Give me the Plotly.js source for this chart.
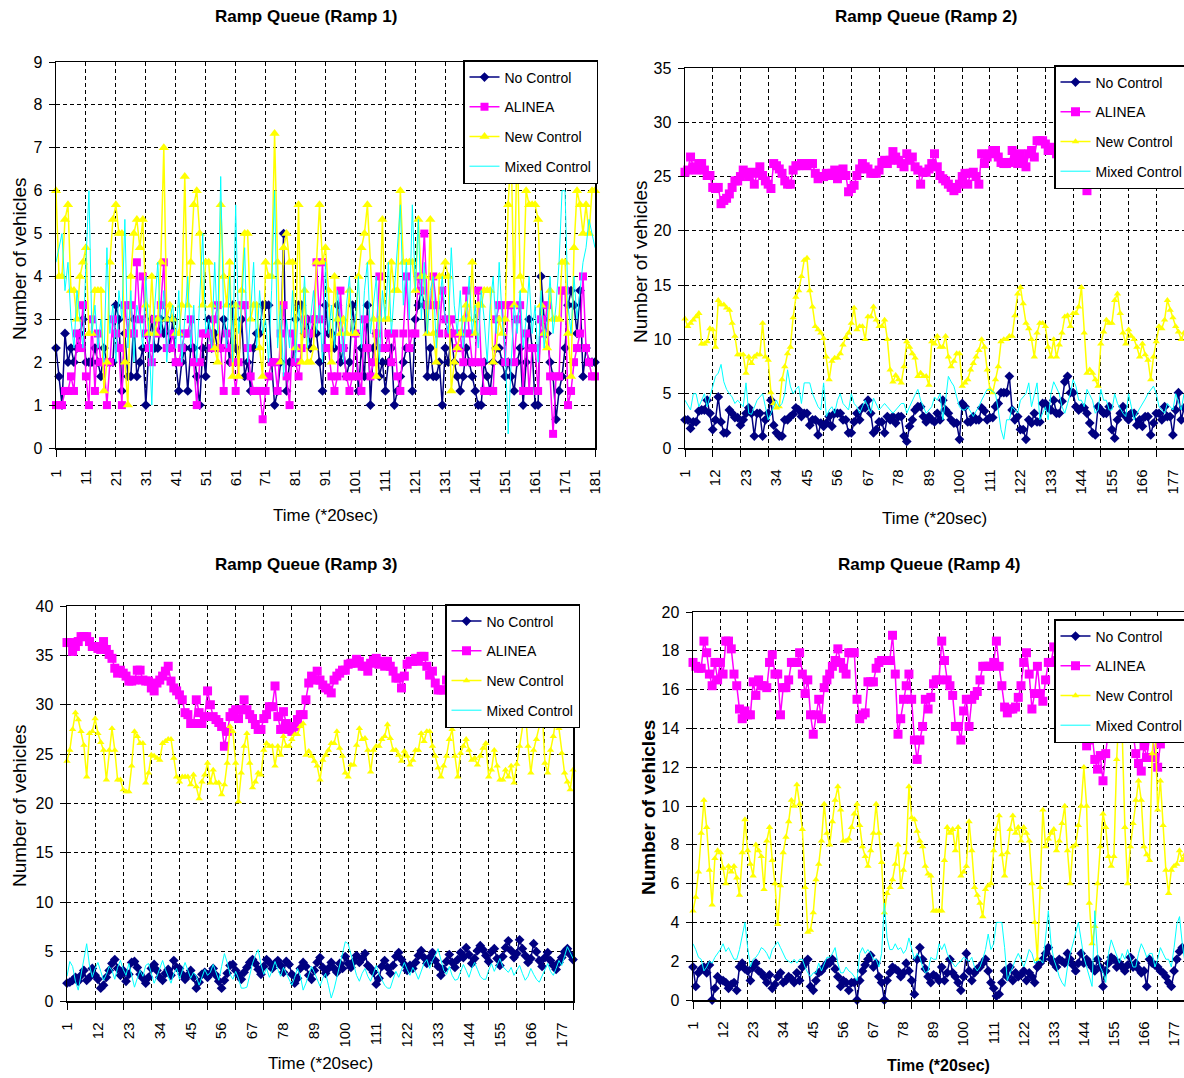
<!DOCTYPE html>
<html>
<head>
<meta charset="utf-8">
<script src="https://cdn.plot.ly/plotly-3.0.1.min.js"></script>
<style>
html,body{margin:0;padding:0;background:#ffffff;overflow:hidden;}
#chart{width:1200px;height:1078px;}
</style>
</head>
<body>
<div id="chart"></div>
<script>
// ---------------- DATA ----------------
const seriesNames = ['No Control', 'ALINEA', 'New Control', 'Mixed Control'];
const panelTitles = ['Ramp Queue (Ramp 1)', 'Ramp Queue (Ramp 2)', 'Ramp Queue (Ramp 3)', 'Ramp Queue (Ramp 4)'];
const xTitle = 'Time (*20sec)';
const yTitle = 'Number of vehicles';
const nSteps = 181;

const ticksRamp1 = [1, 11, 21, 31, 41, 51, 61, 71, 81, 91, 101, 111, 121, 131, 141, 151, 161, 171, 181];
const ticksRamp234 = [1, 12, 23, 34, 45, 56, 67, 78, 89, 100, 111, 122, 133, 144, 155, 166, 177];
const gridRamp234 = [1, 11, 21, 31, 41, 51, 61, 71, 81, 91, 101, 111, 121, 131, 141, 151, 161, 171, 181];

// ----- Ramp 1 -----
const r1NoControl = [
2.33,1.67,1,2.67,2,2.33,2,2.33,2.67,3,
2,2,2,2.33,2,1.67,2.33,2,2,2,
3.33,3,1.33,2.67,1.67,1.67,3,1.67,2,2.33,
1,2.33,3,2.33,2.33,3,2.67,3,2.33,3,
2,1.33,2,2.33,1.33,2.33,2.33,1.67,1,2.33,
1.67,3,2.33,2.67,2.33,2.33,3,2.67,2,3.33,
2.33,2,3,1.67,2,1.33,2.33,2.67,2.67,3.33,
3.33,3.33,2,1,1.33,2,5,1.33,2,2,
3,3.33,3.33,2.67,3,2.33,3,2.67,2,1.33,
3.33,2.67,2.67,2.33,3.33,2,2.33,1.67,2,3.33,
2.67,1.33,2.33,1.67,3.33,1,2.33,2.67,1.67,2,
1.33,2,2.33,1,1.33,1.67,2,2.33,2.33,1.33,
3,3.33,3.67,3.33,1.67,2.33,1.67,1.67,2,1,
2.33,2,2.67,2,1.67,1.33,1.67,2.33,2,1.67,
1.33,1,1,2,1.67,1.33,2,2.33,2.33,2,
1.67,2,1.67,1.33,2,2.33,1,2,3,2.33,
1,1,4,3,2.67,2,1.67,0.67,1.33,1.67,
2.33,3.33,3.67,3.33,2.67,3.67,1.67,2.33,2,2,2];
const r1Alinea = [
1,1,1,1.33,1.33,1.67,1.33,2.67,2.33,3.33,
1.67,1,3,1.33,2.67,2,2,1,2,3,
2.67,2.33,1,3.33,2.67,3.33,2.67,4.33,3,4,
2.67,2.33,2,3,2.67,3.33,4.33,2.33,2.33,2.67,
2,2,2.33,2.67,2.67,3,2,1,2,2.67,
2.67,2.67,2.33,3,3.33,2.33,1.33,2.67,2.33,2,
1.33,2,3.33,3.33,2.33,1.67,1.33,1.33,1.33,0.67,
1.33,1.67,2,2,1.33,2.67,3.33,1.67,1,2.67,
2,1.67,2.33,3,2.67,2.67,3,4.33,3,4.33,
2.33,2.33,1.67,1.33,1.67,3.67,2.33,1.67,1.33,1.67,
2.67,1.67,1.33,3,2.33,1.67,2,2.67,4,2.33,
2.33,2.67,2,2.67,1.67,1.33,2.67,4,2.33,2.67,
2.67,4,3.67,5,3.33,3.33,4,3.33,2.67,3.67,
3,2.67,3,2.67,2.33,2.67,2,3.67,2.67,2,
2,3.67,2,1.33,1.33,1.33,1.33,3,3.33,3.33,
2,3.33,3.33,2,3,3.33,1.33,2.67,1.33,2.33,
2.33,1.33,3,2.67,3.33,1.67,0.33,1.67,1.67,3.67,
3.67,1,1.33,2,2.33,2.67,4,2.33,2,1.67,1.67];
const r1NewControl = [
6,4,4,5.33,5.67,3.67,3.67,3,4,4.33,
4.67,2.67,2.67,3.67,3.67,3.67,1.33,2,4.33,5.33,
5.67,5,5,2,1,4,5,5.33,4.67,5.33,
3.33,2.67,4,2.67,3,4.33,7,3,3.33,3,
2.67,2.67,3.33,6.33,3.33,4.33,5.67,6,5,3.33,
4.33,4.33,3.33,2.33,2,5.67,4,3.33,4.33,1.67,
3.33,1.67,3.67,5,5,3,3.33,3.33,2.33,1.67,
4.33,4,4,7.33,4.33,2,4.67,5,4.33,4.33,
2.33,5.67,2,3.67,2,2,2.33,4.33,5.67,4.33,
4.67,3.67,2,4,3,2.67,3,2.67,3.67,2.67,
2.67,4,4.67,5,5.67,4.33,3,1.67,3,5.33,
3,3,4.33,3.67,3.67,6,4.33,4.33,4.33,4.33,
3.67,5.33,4,4,2.67,5.33,2.67,2,4,4,
4.33,4,1.33,2,2.33,2.67,3,3.33,3,4.33,
2.67,3.33,3.33,3.67,3.67,3.67,2,2.33,3,2.67,
3,5.67,7,3.33,7.33,4,3.67,6,5.67,5.67,
5.67,5.33,3.33,2.67,2.33,3.67,3,3,3,4.33,
4.33,2.67,1.67,4.67,6,5.67,5,5.67,5,6,6];
const r1Mixed = [
4.33,4.67,5,3.67,4.33,3,2.33,3.67,3,2.33,
4.33,6,2.67,3.33,2.33,3,2,4.67,2.67,3.33,
2,3.67,3,5.33,2.33,3.67,2,3.33,3,2.33,
4,2.67,1,3.33,4.33,2.67,3.67,2,3,3.33,
2.33,3.67,2,3,4,2.33,3.33,2,3.67,5,
2.67,3,2.33,4.33,2.67,6.33,3,2.33,4,2,
5.67,2.67,3.33,4.67,2,3.33,4.33,2.33,3.67,2.67,
3,2,3.67,6,2.33,3.33,1.67,3,2.33,3.67,
2,3.33,2.67,4,2.33,3,3.67,2.67,3.33,2,
4.33,2.67,3.33,2.33,3.67,3,2,3.33,4,2.67,
3,4,2.33,3.67,4.33,2.67,3.33,4,2,3.67,
3,4.33,2.67,3.67,4.67,5.67,3.33,4.33,3,5.67,
3.67,5.33,3,4.33,2.67,3.67,4,2.33,3.33,4,
3,2.67,4.67,3.33,2.67,3.67,2.33,3,4,2.67,
3.33,2.33,3.67,3,2,3.33,4,2.67,4.33,3,
2.33,0.33,2,3.33,2.67,3.67,2.33,3,4,2.67,
3.33,2,3.67,2.33,3,4,2.67,3.33,4.33,6,
6,3.33,2.67,4,3,3.67,4.33,4.67,5.33,5,4.67];

// ----- Ramp 2 -----
const r2NoControl = [
2.6,2.6,1.8,2.4,2.4,3.4,3.5,3.5,4.4,3.2,
1.7,2.6,4.7,2.4,1.4,1.4,3.5,3.2,2.8,2.8,
2.1,2.6,3.2,3.7,3.2,1.1,3.2,3.2,1.1,2.6,
3.2,4.4,2.1,1.4,1.1,1.1,2.6,2.6,2.9,3.1,
3.7,3.5,2.9,3.2,3.2,2.1,2.6,2.6,1.2,2.3,
2,2.3,2.9,2,3.2,3.2,3.2,2.6,2.6,1.4,
1.4,2.4,3.2,2.6,3.7,3.7,4.4,3.2,1.4,1.7,
2.4,2.4,1.4,2.9,2.6,2.9,2.3,2.9,2.9,1.1,
0.6,2,2.6,3.5,3.8,3.8,2.9,2.4,2.9,2.6,
2.4,3.2,2.6,4.4,3.5,3.2,2.6,2.3,2.3,0.8,
4.1,3.8,2.4,2.4,2.9,2.6,2.6,3.7,3.4,2.6,
2.8,2.8,3.8,4.1,5.1,5.1,5.1,6.6,3.5,2.6,
2.9,1.7,1.7,0.8,2.6,2.3,3.2,2.4,2.4,4.1,
4.1,3.7,3.5,4.4,3.2,3.2,4.3,6.1,6.6,5.1,
5.1,3.8,3.5,3.7,3.7,3.2,2.3,1.4,1.2,3.8,
3.5,3.2,3.2,3.8,1.7,0.9,2.6,3.2,3.8,2.9,
2.6,3.2,3.2,2.1,2.6,2,2.9,2.9,1.2,2.3,
3.2,3.2,2.6,3.8,2.9,2.9,1.2,3.5,5.1,2.6,3.7];
const r2Alinea = [
25.4,25.6,26.8,25.9,25.6,26.2,26.2,25.6,25.1,25.1,
24,23.9,24,22.5,22.8,23,23.4,24,24.6,24.6,
25,25.6,25.3,25,25.4,24.3,25.3,25.9,25.1,24.6,
24.3,23.9,26.2,26,25.7,25.3,24.6,24.3,24.3,25.6,
26,26,26.2,26.2,26,26.2,26.2,25.3,24.8,25,
25,25.3,25.1,25.3,25.6,24.8,25.1,25.7,25.1,23.6,
23.9,24.2,25.1,25.7,26.2,25.9,25.7,25.3,25.3,25.3,
25.6,26.3,26.5,26.2,26.5,27.3,26.8,26.5,26.2,25.9,
27.1,26.5,26.8,25.9,25.6,24.3,25.4,25.4,25.7,26.2,
27.1,25.9,25.1,24.8,24.6,24.3,24,23.7,23.9,24.3,
25,25.3,24.3,25.3,25.4,25,24.3,27.1,26.2,26.8,
27.1,27.4,27.4,26.8,26.3,26.2,26.2,26.3,27.4,26.9,
26.2,27.1,26.5,25.9,27.1,27.4,26.8,28.3,28.3,28.3,
28,27.4,27.4,27.7,27.1,28,27.4,26.8,27.1,26.5,
25.9,26.2,25.3,24.8,25.1,23.7,25.3,26.2,26.8,27.1,
26.5,27.4,28,27.7,27.1,26.2,26.8,27.4,28.3,27.7,
27.1,26.5,26.2,26.8,27.4,28,28.6,28,27.4,26.8,
27.1,27.7,28.3,27.7,27.1,26.5,27.1,27.7,28,27.4,27.1];
const r2NewControl = [
11.9,11.2,11.5,11.8,12.1,12.4,9.6,9.6,9.8,11,
10.9,9.3,13.6,13.2,13.2,12.9,12.7,11.5,10.3,8.6,
8.6,8.6,6.9,8.4,7.8,8.4,8.6,8.6,11.5,8.4,
8.1,5.1,4.1,3.7,3.8,6.3,7.5,8.7,9.3,12,
13.9,14.5,15.8,17.3,17.5,14.5,13,11.2,10.9,10.6,
10.1,8.4,6.3,8,8.3,8.3,8.7,9.5,10.2,10.6,
11.5,12.9,10.9,11.2,11.2,10,12.1,12.1,13,11.8,
11.2,11.2,11.8,10,7.2,6.1,6.7,6.3,6,7.5,
9.8,9.3,8.7,8.3,6.6,6.9,6.6,6.6,5.8,9.8,
9.6,10.3,9.3,9.3,10.3,8.4,7.5,8,8.7,8.7,
5.7,6,6.3,7.2,7.8,8.4,9,10,9.3,7.2,
5.4,5.1,6.3,7.5,9.8,10,10,10.3,10.3,12.2,
14.2,14.8,13.3,11.5,11,10,8.4,10.6,11.5,11.5,
11.2,9.3,8.4,10,8.4,9.5,10.6,12.1,12.2,11.2,
12.4,12.4,13,14.8,10.6,6.9,7.2,6.9,6.3,5.7,
9.6,10.7,11.8,11.5,11.5,13.6,14.2,12.4,10.6,9.6,
10.9,10.3,10,9.3,8.4,9.6,8.6,8.1,6.3,8.4,
9.8,11.2,11,11.8,13.6,12.7,12,11.2,10.7,10,10.6];
const r2Mixed = [
4.4,4,3.5,5,5,3.8,4.4,5,3.8,4.7,
5.7,6.6,6.9,7.7,6.1,5.4,5,4.7,4.1,4.4,
4.1,3.8,6,3.2,3.1,3.8,4.4,4.7,5,3.8,
2.6,3.2,3.8,4.4,3.8,4.1,5,7.2,5.7,5,
5.4,5.7,4.1,6,6,6,5,4.4,3.8,3.5,
6,2.9,3.5,3.8,3.2,4.4,5,4.1,3.8,3.5,
5,4.1,3.8,3.2,3.8,4.4,3.8,3.2,4.6,4.1,
3.5,3.8,4.1,3.8,3.5,3.2,3.5,3.8,4.1,4.1,
3.2,3.8,4.4,4.9,5.4,4.4,3.8,3.2,3.5,3.8,
4.7,4.4,5,2.6,4.4,6.6,6.1,5.7,4.7,3.8,
3.5,3.5,3.8,3.4,2.9,3.4,3.8,4.4,4.9,5.4,
5.4,5.2,5,3.5,1.7,0.8,2.6,2.6,3.8,3.5,
3.2,4.4,4.7,5,6,3.8,4.9,6,2.6,3.2,
3.8,2.6,5,6.1,5.5,5,3.8,3.2,4.1,5,
6.3,5.7,4.4,4.4,3.8,5.4,4.9,4.4,3.2,3.5,
5.4,4.4,4.4,3.5,3.5,5,4.1,3.6,3.2,2.9,
5,3.8,2.6,3.2,3.6,4.1,4.5,5,5.4,5.7,
5,3.8,3.5,3.2,4.1,3.8,3.5,5,4.2,3.5,5];

// ----- Ramp 3 -----
const r3NoControl = [
1.8,1.9,2.1,2.4,2,2.6,3.1,2.1,2.4,3.3,
2.6,2.2,1.3,1.6,2.4,3.1,3.8,4.2,3.3,2.6,
3.1,2,2.7,3.9,4,3.4,2.7,2.3,1.8,2.4,
3.3,3.7,3.1,2.4,2.1,2.8,3.2,2.6,4.1,3.4,
3.3,2.7,2.2,2.6,3.1,2.4,1.3,1.9,2.7,2.9,
2.4,2.8,3.3,2.6,2,1.3,2.1,2.8,3.6,3.7,
3.1,2.6,2.2,2.9,3.4,3.9,4.2,3.8,3.2,2.7,
3.5,4.2,3.9,3.3,3.8,4.1,3.6,2.9,4,3.7,
2.7,1.8,2.3,3.3,3.9,3.5,2.6,2.2,3.1,3.9,
4.4,3.4,2.8,3.3,3.9,3.3,2.9,3.8,3.3,4.5,
3.8,3.4,4,4.6,3.9,4.3,4.8,3.6,3.3,2.9,
1.7,2.3,3.5,4.1,3.4,2.8,3.6,4.5,4.9,4.2,
3.7,3.1,3.6,3.3,3.9,4.6,5.1,4.4,3.8,4.4,
4.9,4.1,3.5,2.6,3.2,4,4.7,3.9,3.4,4.2,
4.9,4.4,5.4,4.7,3.8,4.3,5.1,5.6,5.2,4.6,
4,5,5.3,4.3,3.6,4.5,5.4,6.1,5.1,4.4,
4.8,6.2,5.3,4.6,3.9,4.3,5.8,5,4.1,3.5,
4.4,4.9,4.1,3.6,3.2,3.9,4.4,5,5.3,4.7,4.2];
const r3Alinea = [
36.3,36.3,35.4,35.9,36.4,36.9,36.9,36.9,36.4,35.9,
35.9,35.7,35.6,36.4,35.6,35.1,34.7,33.7,33.2,33.5,
33.2,32.9,32.4,32.4,32.5,33.5,33.5,32.5,32.4,32.4,
31.7,31.4,32.2,32.5,32.9,33.4,33.9,32.4,31.7,31.4,
31,30.5,29.2,29,28.1,28.1,30.5,29.2,28.1,28.8,
31.4,30,28.8,28.5,28.2,27.8,25.8,27.3,28.8,29.2,
29.5,28.6,29.5,30.5,29.5,29,28.6,28,27.5,27.5,
28.6,29,29.8,29.8,31.9,28.8,27.5,29.3,28.1,27.5,
27.3,27.8,28.5,29,29,30.5,32.2,32.9,32.5,33.4,
32.5,32,31.7,31.5,31.2,32.5,32.9,33.2,33.5,33.5,
34.1,34.2,34.2,34.6,34.4,33.9,33.9,33.4,34.2,34.5,
34.7,34.1,34.4,33.9,34.4,33.9,33.4,32.7,32.7,31.7,
32.9,34.1,34.4,34.4,34.7,34.4,34.9,34.9,33.9,33,
33.4,32.2,31.5,31.5,31.5,32.5,33,32.2,31.7,32.5,
33.2,33.9,34.4,33.7,33.2,32.7,33.4,34.1,34.6,34.9,
34.4,33.9,33.2,32.5,33,33.7,34.4,34.9,35.4,34.7,
34.1,33.4,32.9,33.5,34.2,34.7,35.2,34.6,33.9,33.4,
32.7,33.2,33.9,34.4,34.9,34.4,33.7,33.2,33.9,34.4,34.1];
const r3NewControl = [
24.3,25.4,27.5,29.2,28.5,27.3,25.9,22.7,27.1,27.3,
28.6,27.1,26.2,25.4,22.4,25.4,27.6,25.4,22.4,22.4,
21.4,21.2,21.2,23.8,27.3,26.8,26.1,26.1,22.1,23.1,
24.9,24.8,24.6,24.4,26.1,26.3,26.5,26.5,24.6,22.7,
22.2,22.7,22.7,22.7,21.9,22.9,21.7,20.5,22.2,22.9,
24.1,22.1,23.4,22.1,22.1,20.9,21.9,24.1,27.8,27.3,
24.1,20.2,23.1,25.8,27.1,24.1,21.6,22.2,23.1,22.9,
25.4,26.1,25.8,25.8,23.8,25.8,24.9,26.8,25.8,25.8,
26.5,27,27,27.8,28.1,24.9,25.3,24.8,24.3,23.8,
22.4,24.4,24.9,25.4,26.1,26.1,27.3,25.6,24.8,23.1,
22.7,23.9,23.9,25.9,27.6,26.5,26.6,25.4,23.2,25.4,
25.8,25.8,26.5,26.8,28,26.6,25.4,25.4,24.9,24.3,
25.3,24.8,23.9,24.4,25.4,25.4,27.1,26.3,27.3,27.3,
25.8,24.8,23.6,22.7,23.8,24.8,26.5,27.5,24.8,22.7,
25.1,25.8,26.5,25.4,24.4,24.6,23.9,24.8,25.6,26.1,
22.7,23.4,25.4,23.8,22.4,22.4,23.4,22.7,23.8,22.1,
24,25.8,27.8,29.5,25.8,23.1,25.4,26.5,27.8,29.8,
24.1,23.1,25.4,26.8,28.8,27.6,25.1,23.1,22.2,21.4,23.4];
const r3Mixed = [
2.5,4,3.5,2,1.1,2.8,4.2,5.8,3.6,2.4,
3.3,3.9,3,2.1,2.7,3.5,3.1,2.2,3.4,4.1,
3.2,2.6,3.8,2.7,1.4,2.3,3.1,2.5,3.6,3.8,
2.9,1.8,2.5,3.3,4.1,3.2,2.4,1.8,2.8,3.3,
2.2,3,3.9,3.1,2.3,2.9,2.5,1.6,2.4,3.2,
2.6,2.9,3.7,2.8,2.1,3.5,4.8,3.9,2.7,2.2,
3,2.3,1.3,1.3,1.4,2.6,3.8,4.6,5.2,3.7,
2.7,3.3,2.4,3.1,4,3.2,2.5,3.4,2.8,2.1,
1.6,2.4,3.3,2.6,1.1,1.8,2.7,3.5,2.9,2.1,
1.5,2.3,2.8,1.6,0.3,1.2,2.4,3.6,4.8,6,
5.8,4.7,3.5,2.6,2,2.8,3.3,2.5,2,2.9,
3.6,2.7,2.1,1.6,1.3,1.3,2.2,3,2.4,3.1,
3.9,3.2,2.6,3.4,2.9,2.2,3,3.8,4.2,3.3,
4.1,4.6,5.3,4.2,3.1,2.7,3.5,2.6,2.1,2.2,
2.9,3.7,3.1,2.4,3.3,3.9,3.2,2.5,2.2,2.2,
3.1,3.8,3,3.7,4.3,3.5,3.2,2.9,3.4,2.6,
3.1,3.6,2.8,2.1,2.5,3.3,2.7,2.2,1.9,2.6,
3.2,3.8,3,2.6,3.3,4.1,3.6,4.5,5.5,4.9,4.3];

// ----- Ramp 4 -----
const r4NoControl = [
1.7,0.7,1.4,1.6,1.7,1.4,1.8,0,0.6,1.2,
1,1,0.9,0.6,0.8,0.9,0.5,1.7,1.9,1.6,
1.5,1,1.7,1.9,1.5,1.4,1.2,0.9,1.3,0.6,
0.8,1.2,1.4,0.9,1,1.2,1.1,0.9,1.4,1,
1.7,1.9,2.1,0.7,0.5,1,1.4,1.5,1.7,1.9,
1.9,2.1,1.6,1.2,0.7,1,0.9,0.5,0.9,0.9,
0,1,1.5,1.8,2.1,2.3,1.7,1.9,1.2,0.9,
0,1,1.4,1.7,1.6,1.5,1.2,1.4,1.9,1.5,
1,0.3,2.1,2.7,2.1,1.6,1.2,0.9,1.3,1.2,
1,1.7,1,1.4,2.1,1.4,1.2,0.9,0.5,1.2,
2.4,1.5,1,1.4,1.6,1.7,1.9,2.1,1.5,0.9,
0.6,0.2,0.3,0.9,1.5,1.2,1.7,1,1.4,1.2,
1.3,1.5,1,1.4,1.2,0.9,1.7,1.9,2.1,2.4,
2.7,2.1,1.9,1.7,2.1,2,1.9,2.4,2.1,1.8,
1.5,1.9,2.4,1.9,2.1,1.9,1.7,1.5,2.1,1.7,
0.7,1.5,1.9,2.2,2.1,1.7,1.9,1.7,1.5,1.8,
2.2,1.7,1.9,1.6,1.4,1.5,0.7,2.1,1.9,1.8,
1.7,1.5,1.4,1.2,0.9,0.7,1.5,2.1,2.5,2.7,2.6];
const r4Alinea = [
17.4,17.2,17.1,17.1,18.5,17.9,16.8,16.2,17.4,16.5,
17.4,16.8,18.5,18.5,18.1,16.8,16.2,15,14.5,14.9,
14.7,14.7,16.4,15.7,16.5,16.2,16.2,16.1,17.4,17.8,
16.8,16.8,14.7,16.1,16.1,16.5,17.4,17.4,17.4,17.9,
16.8,15.8,16.5,14.7,13.7,14.7,15.5,14.5,16.1,16.5,
16.8,17.2,17.5,18.1,17.4,17.1,16.8,17.9,17.9,17.9,
15.5,14.5,14.7,14.8,16.4,16.4,16.4,17.1,17.4,17.5,
17.5,17.5,17.5,18.8,16.8,13.7,14.5,15.5,16.2,16.8,
15.5,13.4,12.4,13.4,14.1,15.5,15,15.6,16.3,16.5,
16.5,18.5,17.5,16.5,16.2,15.7,14.1,14.1,13.4,14.9,
15.5,14.1,15.5,15.7,15.9,16.5,17.2,17.2,17.2,17.2,
17.4,18.5,17.2,16.2,15.1,14.8,15,15,15.1,15.6,
16.2,17.4,17.9,16.8,15,15.8,17.2,15.8,15.4,16.5,
17.4,17.4,18.2,17.5,16.8,17.2,16.5,15.9,16.6,15.7,
14.9,14.4,13.8,14.1,13.1,13.4,13.7,12.4,11.9,12.6,
11.3,12.7,14.2,15.3,16.1,15.4,14.6,15.8,16.7,15.9,
14.8,13.9,12.7,12.2,11.8,13.1,12.5,13.5,13.9,12.5,
12,13.2,14.6,15.8,16.3,15.6,14.9,15.7,16.4,15.8,15.1];
const r4NewControl = [
4.6,5.3,6.6,8.6,10.3,8.9,6.7,4.9,7.3,7.7,
7.6,6.8,6,6.9,6.6,6.9,6.3,5.4,7.6,9.3,
7.7,7,6.4,8,7.7,7.4,5.7,8.2,8.9,7.2,
6,3.9,5.9,7.6,8.4,9.2,10.3,10,11.1,10.1,
8.8,5.8,3.5,3.6,4.5,6.2,7,8.2,10.1,8.6,
8,9.2,10.3,11,9.8,8.2,8.2,8.3,8.9,9.6,
10.1,9,7.9,7.4,6.9,7.7,8.6,10.1,8.6,7.1,
4.5,5.5,5.8,6.2,7,8,5.8,6.7,7.6,11,
9.4,9.3,8.7,8.2,7.9,6.9,6.5,6.4,4.6,4.6,
4.6,4.6,7.2,8.9,8.6,8.8,7.7,8.9,6.4,6.6,
6.9,9.2,7.7,5.8,5.4,5,4.3,5.7,5.9,6,
7.7,8.8,9.5,7.5,6.4,7.6,8.8,9.5,8.6,8.9,
8.2,8.9,8.6,8.2,6,4,2.1,5.8,9.8,7.9,
8.3,8.6,8.8,7.7,8.2,9.1,10,7.7,6,7.9,
8,9,10,12,10,5,2.9,3.8,6,7.9,
9.6,8.9,7.4,6.9,7.4,12.4,15.2,13.9,8.9,6,
7.9,9.1,10.3,11.3,10.3,7.9,7.5,7.2,12.7,14.6,
9.8,11.3,9,6.7,5.5,6.7,6.9,7,7.7,7.2,7.5];
const r4Mixed = [
2.9,2.6,2.2,2.1,1.5,1.7,2,1.9,2.2,2.4,
2.6,2.9,2.5,2.7,2.4,2.1,2.1,2.6,3.3,4,
2.7,1.7,2.1,2.2,2.4,2.7,2.6,2.4,2.1,2.6,
2.8,3,2.7,2.4,2.1,2,1.9,2.1,1.9,2.1,
2.1,1.7,1.4,1.2,1.4,1.4,1.9,1.5,1.9,2.2,
2.2,2.4,2.7,1.9,1.4,1.4,1.7,1.5,1.4,1.2,
1,2.4,2.7,2.4,2.6,2.4,2.1,2.1,1.7,2.4,
5,3.2,2.6,2.6,2.9,2.6,2.7,2.4,2.6,3.2,
2.7,2.1,2.4,2.2,1.7,1.4,1.5,2.2,2.1,2.1,
2.9,2.6,2.9,2.4,2.1,1.9,1.7,1.9,2,2.2,
2.1,2,2.2,1.7,1.5,1.7,2.1,2.6,3.4,2.6,
2.9,4,4,4,2.7,1,1.4,1.7,2.1,2.4,
2.1,1.7,2.1,2.6,2.4,1.9,2,2.1,1.9,3.2,
4.6,2.9,2.1,1.7,1.2,0.9,0.7,1.7,2.4,2.9,
3.4,4,3.1,2.2,1.7,1.2,0.7,4.6,2.4,1.7,
1.4,0.9,2.4,3.1,2.7,2.2,1.9,2.4,2.1,2.6,
2.1,1.7,1.7,2.4,2.9,2.6,2.2,2.4,2.4,1.7,
2.1,2.7,2.4,2.1,2.1,1.7,2.7,3.9,4.3,2.9,1.9];

// ---------------- STYLE / LAYOUT ----------------
// The original picture is cropped on its right edge (the legend boxes of
// ramps 2 and 4 run past it), so the figure is a little wider than the window.
const W = 1200, H = 1078;
const FONT = 'Liberation Sans, Arial, Helvetica, sans-serif';
const seriesColors = ['#000080', '#FF00FF', '#FFFF00', '#00FFFF'];
const seriesSymbols = ['diamond', 'square', 'triangle-up', null];

const timeSteps = [];
for (let i = 1; i <= nSteps; i++) timeSteps.push(i);

// pixel boxes of each plot area: [left, right, top, bottom]
const panels = [
  {box: [56, 595, 62, 448], ymax: 9, ystep: 1, data: [r1NoControl, r1Alinea, r1NewControl, r1Mixed],
   legendPos: [463, 60], titlePos: [306, 17], xtPos: [325, 515], ytPos: [19, 259], bold: false, big: true},
  {box: [685, 1184, 68, 448], ymax: 35, ystep: 5, data: [r2NoControl, r2Alinea, r2NewControl, r2Mixed],
   legendPos: [1054, 65], titlePos: [926, 17], xtPos: [934, 518], ytPos: [640, 262], bold: false, big: false},
  {box: [67, 573, 606, 1001], ymax: 40, ystep: 5, data: [r3NoControl, r3Alinea, r3NewControl, r3Mixed],
   legendPos: [445, 604], titlePos: [306, 564], xtPos: [320, 1063], ytPos: [19, 806], bold: false, big: false},
  {box: [693, 1185, 612, 1000], ymax: 20, ystep: 2, data: [r4NoControl, r4Alinea, r4NewControl, r4Mixed],
   legendPos: [1054, 619], titlePos: [929, 564], xtPos: [938, 1065], ytPos: [648, 808], bold: true, big: false}
];

// sanity check of array lengths
const bad = [];
panels.forEach((p, k) => p.data.forEach((arr, s) => { if (arr.length !== nSteps) bad.push('ramp' + (k+1) + ' ' + seriesNames[s] + ': ' + arr.length); }));
if (bad.length) throw new Error('Length mismatch: ' + bad.join('; '));

const traces = [];
const layout = {
  width: W, height: H,
  margin: {l: 0, r: 0, t: 0, b: 0, pad: 0},
  paper_bgcolor: '#ffffff', plot_bgcolor: '#ffffff',
  showlegend: true,
  hovermode: false,
  font: {family: FONT, color: '#000000'},
  annotations: []
};

const GRIDDASH = '4px,3px';

panels.forEach((p, k) => {
  const sfx = k === 0 ? '' : String(k + 1);
  const legendId = 'legend' + sfx;
  const [l, r, t, b] = p.box;

  p.data.forEach((vals, s) => {
    const tr = {
      type: 'scatter',
      x: timeSteps, y: vals,
      name: seriesNames[s],
      xaxis: 'x' + sfx, yaxis: 'y' + sfx,
      legend: legendId,
      legendgroup: 'r' + k + 's' + s,
      mode: s < 3 ? 'lines+markers' : 'lines',
      line: {color: seriesColors[s], width: s === 3 ? 1 : 1.5},
      cliponaxis: false
    };
    if (s < 3) {
      let size;
      if (s === 0) size = 7.5;
      else if (s === 1) size = p.big ? 8 : 9;
      else size = p.big ? 9 : 6.5;
      tr.marker = {symbol: seriesSymbols[s], size: size, color: seriesColors[s], line: {width: 0}};
    }
    traces.push(tr);
  });

  const xa = {
    domain: [l / W, r / W],
    range: [1, 181],
    anchor: 'y' + sfx,
    showline: true, mirror: true, linecolor: '#000000', linewidth: 1.5,
    zeroline: false,
    tickangle: -90,
    tickfont: {family: FONT, size: 15, color: '#000000'},
    ticklabelstandoff: 7,
    fixedrange: true
  };
  if (k === 0) {
    Object.assign(xa, {
      tickmode: 'array', tickvals: ticksRamp1, ticktext: ticksRamp1.map(String),
      ticks: 'outside', ticklen: 7, tickcolor: '#000000', tickwidth: 1,
      showgrid: true, gridcolor: '#000000', gridwidth: 1, griddash: GRIDDASH
    });
  } else {
    Object.assign(xa, {
      tickmode: 'array', tickvals: ticksRamp234, ticktext: ticksRamp234.map(String),
      ticks: 'outside', ticklen: 7, tickcolor: 'rgba(0,0,0,0)', tickwidth: 1,
      showgrid: false,
      minor: {tickmode: 'array', tickvals: gridRamp234, ticks: 'outside', ticklen: 7,
              tickcolor: '#000000', tickwidth: 1,
              showgrid: true, gridcolor: '#000000', gridwidth: 1, griddash: GRIDDASH}
    });
  }
  const ya = {
    domain: [1 - b / H, 1 - t / H],
    range: [0, p.ymax],
    anchor: 'x' + sfx,
    tickmode: 'linear', tick0: 0, dtick: p.ystep,
    showline: true, mirror: true, linecolor: '#000000', linewidth: 1.5,
    zeroline: false,
    ticks: 'outside', ticklen: 6, tickcolor: '#000000', tickwidth: 1,
    showgrid: true, gridcolor: '#000000', gridwidth: 1, griddash: GRIDDASH,
    tickfont: {family: FONT, size: 16, color: '#000000'},
    ticklabelstandoff: 3,
    fixedrange: true
  };
  layout['xaxis' + sfx] = xa;
  layout['yaxis' + sfx] = ya;

  layout[legendId] = {
    x: p.legendPos[0] / W, y: 1 - p.legendPos[1] / H,
    xanchor: 'left', yanchor: 'top',
    xref: 'paper', yref: 'paper',
    bgcolor: '#ffffff', bordercolor: '#000000', borderwidth: 1.5,
    font: {family: FONT, size: 14, color: '#000000'},
    traceorder: 'grouped', tracegroupgap: 8.5,
    itemwidth: 30,
    orientation: 'v'
  };

  const w = p.bold ? 700 : 400;
  layout.annotations.push({
    text: panelTitles[k], xref: 'paper', yref: 'paper',
    x: p.titlePos[0] / W, y: 1 - p.titlePos[1] / H,
    xanchor: 'center', yanchor: 'middle', showarrow: false,
    font: {family: FONT, size: 17, weight: 700, color: '#000000'}
  });
  layout.annotations.push({
    text: xTitle, xref: 'paper', yref: 'paper',
    x: p.xtPos[0] / W, y: 1 - p.xtPos[1] / H,
    xanchor: 'center', yanchor: 'middle', showarrow: false,
    font: {family: FONT, size: p.bold ? 16 : 17, weight: w, color: '#000000'}
  });
  layout.annotations.push({
    text: yTitle, xref: 'paper', yref: 'paper',
    x: p.ytPos[0] / W, y: 1 - p.ytPos[1] / H,
    xanchor: 'center', yanchor: 'middle', showarrow: false, textangle: -90,
    font: {family: FONT, size: 19, weight: w, color: '#000000'}
  });
});

Plotly.newPlot('chart', traces, layout, {staticPlot: true, displayModeBar: false, responsive: false});
</script>
</body>
</html>
